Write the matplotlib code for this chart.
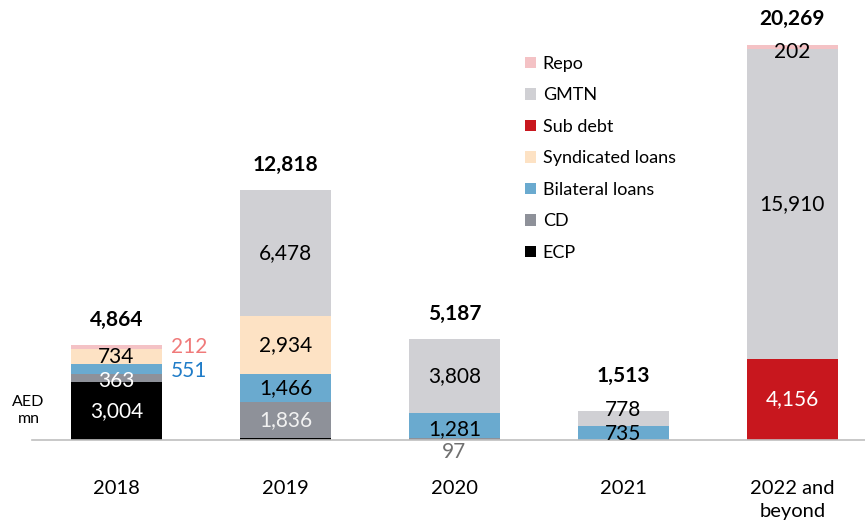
import numpy as np
import matplotlib.pyplot as plt

plt.rcParams['font.family'] = ['Lato', 'DejaVu Sans']

# data (AED mn)
years = ['2018', '2019', '2020', '2021', '2022 and\nbeyond']
ecp = [3004, 104, 0, 0, 0]
cd = [363, 1836, 97, 0, 0]
bilateral = [551, 1466, 1281, 735, 0]
syndicated = [734, 2934, 0, 0, 0]
sub_debt = [0, 0, 0, 0, 4156]
gmtn = [0, 6478, 3808, 778, 15910]
repo = [212, 0, 0, 0, 202]
totals = [4864, 12818, 5187, 1513, 20269]

series = [
    ('ECP', ecp, '#000000'),
    ('CD', cd, '#8E9199'),
    ('Bilateral loans', bilateral, '#6AAACF'),
    ('Syndicated loans', syndicated, '#FDE2C4'),
    ('Sub debt', sub_debt, '#C8171E'),
    ('GMTN', gmtn, '#D0D0D4'),
    ('Repo', repo, '#F4C2C5'),
]

fig = plt.figure(figsize=(8.65, 5.27), dpi=100)
ax = fig.add_axes([0.037, 0.165, 0.963, 0.835])

x = np.arange(len(years))
w = 0.54
bottom = np.zeros(len(years))
bars = {}
for name, vals, col in series:
    bars[name] = ax.bar(x, vals, w, bottom=bottom, color=col, label=name, zorder=2)
    bottom += np.array(vals)

ax.set_xlim(-0.5, 4.43)
ax.set_ylim(0, 22580)
for s in ['top', 'right', 'left']:
    ax.spines[s].set_visible(False)
ax.spines['bottom'].set_color('#BFBFBF')
ax.spines['bottom'].set_linewidth(1.2)
ax.set_yticks([])
ax.set_xticks(x)
ax.set_xticklabels(years, fontsize=14.5, linespacing=1.45)
ax.tick_params(axis='x', length=0, pad=28.5)


def seg_mid(i, name):
    b = bars[name][i]
    return b.get_y() + b.get_height() / 2


fs = 15
# segment labels: (index, series, text, color, dy)
labels = [
    (0, 'ECP', '3,004', 'white', 0),
    (0, 'CD', '363', 'white', -150),
    (0, 'Syndicated loans', '734', 'black', 0),
    (1, 'CD', '1,836', '#F2F2F2', 0),
    (1, 'Bilateral loans', '1,466', 'black', 0),
    (1, 'Syndicated loans', '2,934', 'black', 0),
    (1, 'GMTN', '6,478', 'black', 0),
    (2, 'Bilateral loans', '1,281', 'black', -150),
    (2, 'GMTN', '3,808', 'black', 0),
    (3, 'Bilateral loans', '735', 'black', -50),
    (3, 'GMTN', '778', 'black', 400),
    (4, 'Sub debt', '4,156', 'white', 0),
    (4, 'GMTN', '15,910', 'black', 0),
]
for i, name, txt, col, dy in labels:
    ax.text(x[i], seg_mid(i, name) + dy, txt, ha='center', va='center',
            fontsize=fs, color=col, zorder=3)

# outside labels
ax.text(x[0] + 0.32, seg_mid(0, 'Bilateral loans') - 80, '551', ha='left', va='center',
        fontsize=fs, color='#1F7CC8')
ax.text(x[0] + 0.32, seg_mid(0, 'Repo'), '212', ha='left', va='center',
        fontsize=fs, color='#F07A7A')
ax.text(x[2], -600, '97', ha='center', va='center', fontsize=fs, color='#707070')
ax.text(x[4], totals[4] - 350, '202', ha='center', va='center', fontsize=fs,
        color='black', zorder=3)

# totals
tot_gap = [1280, 1280, 1280, 1750, 1350]
for i, t in enumerate(totals):
    ax.text(x[i], t + tot_gap[i], f'{t:,}', ha='center', va='center', fontsize=fs,
            fontweight='bold', color='black')

ax.text(-0.52, 1500, 'AED\nmn', ha='center', va='center', fontsize=11.5,
        linespacing=1.3, color='black')

handles, lbls = ax.get_legend_handles_labels()
leg = ax.legend(handles[::-1], lbls[::-1], loc='upper left', bbox_to_anchor=(0.572, 0.91),
                frameon=False, fontsize=13, handlelength=0.6, handleheight=0.6,
                handletextpad=0.4, labelspacing=0.86)

fig.savefig('out.png', dpi=100)
